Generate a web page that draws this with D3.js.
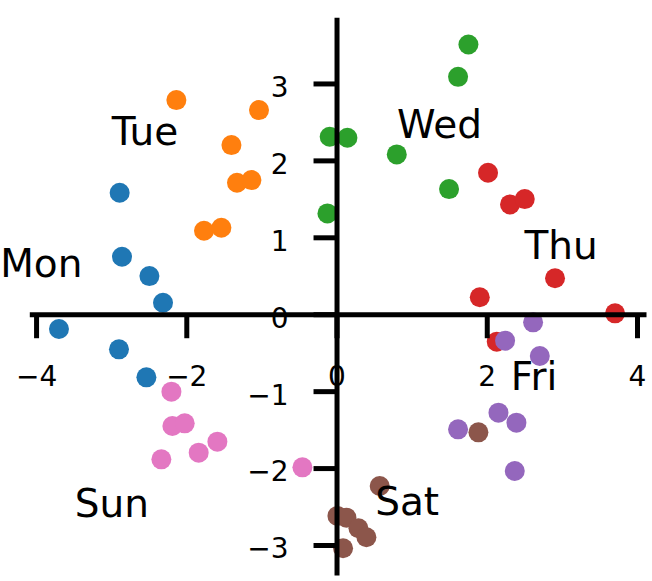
<!DOCTYPE html>
<html>
<head>
<meta charset="utf-8">
<script src="https://cdn.jsdelivr.net/npm/d3@7/dist/d3.min.js"></script>
<style>
  html, body { margin: 0; padding: 0; background: #fff; }
  svg { display: block; }
</style>
</head>
<body>
<script>
// ---- data ----
const days = ["Mon", "Tue", "Wed", "Thu", "Fri", "Sat", "Sun"];
const colors = ["#1f77b4", "#ff7f0e", "#2ca02c", "#d62728", "#9467bd", "#8c564b", "#e377c2"];
const monX = [-2.887, -2.856, -2.491, -2.310, -3.695, -2.896, -2.531];
const monY = [1.579, 0.747, 0.496, 0.149, -0.192, -0.456, -0.820];
const tueX = [-2.132, -1.032, -1.399, -1.325, -1.133, -1.764, -1.533];
const tueY = [2.784, 2.654, 2.199, 1.709, 1.744, 1.085, 1.124];
const wedX = [1.756, 1.618, -0.091, 0.145, 0.802, 1.498, -0.121];
const wedY = [3.507, 3.086, 2.307, 2.294, 2.078, 1.627, 1.311];
const thuX = [2.017, 2.310, 2.506, 2.909, 1.907, 3.708, 2.133];
const thuY = [1.839, 1.428, 1.497, 0.467, 0.220, 0.012, -0.357];
const friX = [2.617, 2.244, 2.706, 2.156, 2.395, 1.618, 2.373];
const friY = [-0.105, -0.344, -0.543, -1.280, -1.410, -1.496, -2.038];
const satX = [1.889, 0.575, 0.012, 0.132, 0.292, 0.398, 0.087];
const satY = [-1.535, -2.233, -2.622, -2.645, -2.782, -2.899, -3.042];
const sunX = [-2.198, -2.185, -2.021, -1.586, -1.835, -2.332, -0.454];
const sunY = [-1.007, -1.453, -1.418, -1.657, -1.800, -1.886, -1.990];
const labelX = [-3.93, -2.55, 1.37, 2.99, 2.63, 0.94, -2.99];
const labelY = [0.665, 2.38, 2.48, 0.90, -0.80, -2.43, -2.45];
const xTicks = [-4, -2, 0, 2, 4];
const yTicks = [-3, -2, -1, 0, 1, 2, 3];

const seriesX = [monX, tueX, wedX, thuX, friX, satX, sunX];
const seriesY = [monY, tueY, wedY, thuY, friY, satY, sunY];

// ---- layout ----
const W = 652, H = 581;
const x = d3.scaleLinear().domain([-4.09, 4.12]).range([29.3, 646]);
const y = d3.scaleLinear().domain([-3.39, 3.86]).range([575, 17.3]);

const svg = d3.select("body").append("svg").attr("width", W).attr("height", H);

// points
const pts = svg.append("g");
days.forEach((d, i) => {
  const data = seriesX[i].map((v, j) => [v, seriesY[i][j]]);
  pts.selectAll(null).data(data).enter().append("circle")
    .attr("cx", p => x(p[0]))
    .attr("cy", p => y(p[1]))
    .attr("r", 10)
    .attr("fill", colors[i]);
});

// axes (spines at zero)
const font = "DejaVu Sans, sans-serif";
const xAxis = d3.axisBottom(x).tickValues(xTicks).tickSize(24).tickSizeOuter(0).tickPadding(28);
const yAxis = d3.axisLeft(y).tickValues(yTicks).tickSize(23).tickSizeOuter(0).tickPadding(25);

const gx = svg.append("g").attr("transform", `translate(0,${y(0)})`).call(xAxis);
const gy = svg.append("g").attr("transform", `translate(${x(0)},0)`).call(yAxis);

[gx, gy].forEach(g => {
  g.select(".domain").attr("stroke", "#000").attr("stroke-width", 5);
  g.selectAll(".tick line").attr("stroke", "#000").attr("stroke-width", 5);
  g.selectAll(".tick text").attr("fill", "#000").style("font-family", font).style("font-size", "28px");
});
gy.selectAll(".tick text").attr("dy", "0.46em");

// day labels
svg.append("g").selectAll("text").data(days).enter().append("text")
  .attr("x", (d, i) => x(labelX[i]))
  .attr("y", (d, i) => y(labelY[i]))
  .attr("dy", "0.365em")
  .attr("text-anchor", "middle")
  .style("font-family", font)
  .style("font-size", "39px")
  .attr("fill", "#000")
  .text(d => d);
</script>
</body>
</html>
